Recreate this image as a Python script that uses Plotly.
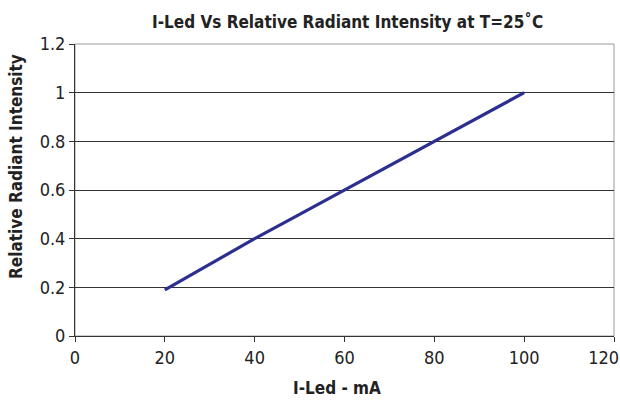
import plotly.graph_objects as go

current_ma = [20, 30, 40, 50, 60, 70, 80, 90, 100]
relative_intensity = [0.19, 0.295, 0.40, 0.50, 0.60, 0.70, 0.80, 0.90, 1.00]
x_ticks = [0, 20, 40, 60, 80, 100, 120]
x_tick_text = ["0", "20", "40", "60", "80", "100", "120\u00a0\u00a0\u00a0\u00a0"]
y_ticks = [0, 0.2, 0.4, 0.6, 0.8, 1, 1.2]
y_tick_text = ["0", "0.2", "0.4", "0.6", "0.8", "1", "1.2"]

title_text = "I-Led Vs Relative Radiant Intensity at T=25˚C"
x_title = "I-Led - mA"
y_title = "Relative Radiant Intensity"

FONT = "DejaVu Sans Condensed, sans-serif"

def f(size):
    return dict(size=size, family=FONT, color="#222")

fig = go.Figure()
fig.add_trace(go.Scatter(
    x=current_ma, y=relative_intensity, mode="lines",
    line=dict(color="#2b2f8f", width=3.2), hoverinfo="skip", showlegend=False,
))

fig.update_layout(
    width=620, height=400,
    margin=dict(l=75, r=6, t=44, b=64, autoexpand=False),
    paper_bgcolor="white", plot_bgcolor="white",
    font=f(18),
    showlegend=False,
    shapes=[dict(type="rect", xref="paper", yref="paper", x0=0, x1=1, y0=0, y1=1,
                 line=dict(color="#9a9a9a", width=1), layer="below")],
    annotations=[
        dict(text="<b>" + title_text + "</b>", xref="paper", yref="paper",
             x=(347.5 - 75) / 539, y=(336 - 21) / 292, xanchor="center", yanchor="middle",
             showarrow=False, font=f(17)),
        dict(text="<b>" + x_title + "</b>", xref="paper", yref="paper",
             x=(336.7 - 75) / 539, y=-(388 - 336) / 292, xanchor="center", yanchor="middle",
             showarrow=False, font=f(17)),
        dict(text="<b>" + y_title + "</b>", xref="paper", yref="paper",
             x=-(75 - 16) / 539, y=(336 - 167) / 292, xanchor="center", yanchor="middle",
             textangle=-90, showarrow=False, font=f(17)),
    ],
)

fig.update_xaxes(
    range=[0, 120], tickvals=x_ticks, ticktext=x_tick_text, ticks="outside", ticklen=5,
    tickcolor="#333", showline=True, linecolor="#333", linewidth=1, showgrid=False,
    zeroline=False, tickfont=f(18), fixedrange=True, ticklabeloverflow="allow",
    automargin=False,
)
fig.update_yaxes(
    range=[0, 1.2], tickvals=y_ticks, ticktext=y_tick_text, ticks="outside", ticklen=5,
    tickcolor="#333", showline=True, linecolor="#333", linewidth=1,
    showgrid=True, gridcolor="#333", gridwidth=1, zeroline=False,
    tickfont=f(18), fixedrange=True, automargin=False,
)

fig.write_html("out.html", config={"displayModeBar": False},
               post_script="document.body.style.margin='0';")
